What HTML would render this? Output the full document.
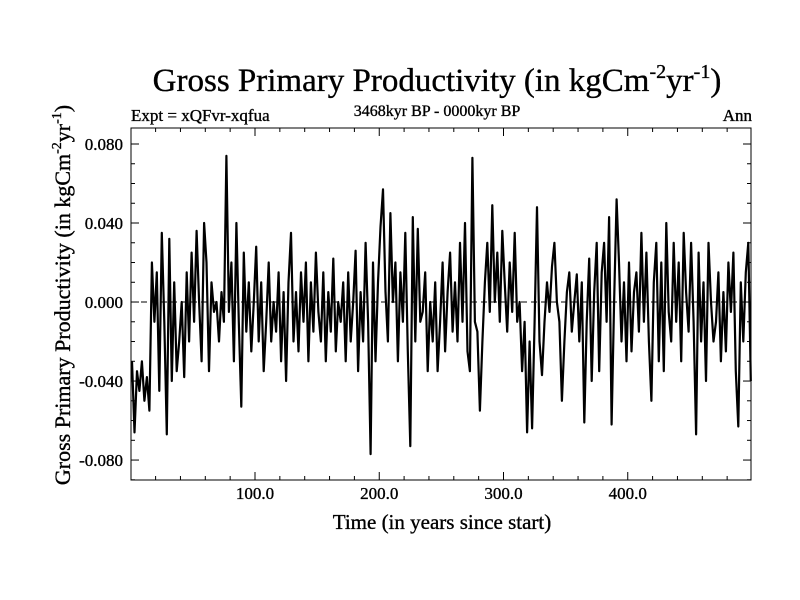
<!DOCTYPE html>
<html><head><meta charset="utf-8"><style>body{margin:0;background:#fff}svg{display:block}text{font-family:"Liberation Serif",serif;fill:#000;stroke:#000;stroke-width:0.35}</style></head>
<body>
<svg id="chart" width="800" height="600" xmlns="http://www.w3.org/2000/svg">
<text x="437" y="91" font-size="33" text-anchor="middle">Gross Primary Productivity (in kgCm<tspan font-size="20" dy="-13">-2</tspan><tspan dy="13">yr</tspan><tspan font-size="20" dy="-13">-1</tspan><tspan dy="13">)</tspan></text>
<text x="131" y="121" font-size="17">Expt = xQFvr-xqfua</text>
<text x="437" y="116" font-size="16" text-anchor="middle">3468kyr BP - 0000kyr BP</text>
<text x="752" y="121" font-size="17" text-anchor="end">Ann</text>
<text x="442" y="529" font-size="21" text-anchor="middle">Time (in years since start)</text>
<text transform="translate(70,295) rotate(-90)" font-size="22" text-anchor="middle">Gross Primary Productivity (in kgCm<tspan font-size="14" dy="-9">-2</tspan><tspan dy="9">yr</tspan><tspan font-size="14" dy="-9">-1</tspan><tspan dy="9">)</tspan></text>
<g id="plot"></g>
</svg>
<script>
const years = [];
const values = [
-30,-66,-35,-45,-30,-50,-38,-55,20,-10,
15,-45,35,-10,-67,32,-40,10,-35,-20,
0,-38,15,-20,25,-10,36,0,-30,40,
20,-35,10,-5,0,-20,5,-10,74,-5,
20,-30,40,-10,-53,25,-15,10,-25,0,
28,-20,10,-35,-10,20,-20,0,-15,15,
-30,5,-40,10,35,-20,5,-25,15,-10,
20,-30,10,-15,25,-5,-20,15,-30,5,
-15,22,-25,0,-10,10,-30,15,-20,0,
26,-35,5,-20,30,-10,-77,20,-30,10,
38,57,5,-20,45,0,20,-30,15,-10,
35,-25,-73,43,-20,37,-10,-5,15,-35,
0,-20,10,-35,-10,20,-25,5,25,-15,
10,-20,30,-10,40,-25,-35,73,-10,-15,
-55,-20,10,30,-5,49,0,25,-10,36,
10,-15,20,-5,35,-10,0,-35,-10,-66,
-20,-64,-10,48,-20,-37,-10,10,-5,18,
30,0,-10,-50,-20,5,15,-15,0,14,
-20,10,-61,-10,22,-40,5,30,-35,15,
30,-10,43,-62,0,52,20,-20,10,-30,
20,-25,5,15,-15,35,-10,25,-20,-50,
10,30,-30,20,-35,40,-5,-20,30,-10,
20,-30,35,5,-15,30,-10,-67,25,-20,
10,-40,30,0,-20,-10,15,-30,5,-25,
20,-5,25,-35,-63,10,-20,15,30,-40];
for (let i = 0; i < values.length; i++) years.push(1 + 2 * i);
const xTicks = [100, 200, 300, 400];
const xTickLabels = ["100.0", "200.0", "300.0", "400.0"];
const yTicks = [-0.08, -0.04, 0, 0.04, 0.08];
const yTickLabels = ["-0.080", "-0.040", "0.000", "0.040", "0.080"];

const L = 131, R = 751, T = 128, B = 480;
const X0 = 0.2, X1 = 499.2, Y0 = -0.0901, Y1 = 0.0881;
const sx = v => L + (v - X0) / (X1 - X0) * (R - L);
const sy = v => B - (v - Y0) / (Y1 - Y0) * (B - T);
const NS = "http://www.w3.org/2000/svg";
const g = document.getElementById("plot");
function mk(tag, attrs) { const e = document.createElementNS(NS, tag); for (const k in attrs) e.setAttribute(k, attrs[k]); g.appendChild(e); return e; }

const zero = mk("line", {x1: L, x2: R, y1: sy(0), y2: sy(0), stroke: "#000", "stroke-width": 1, "stroke-dasharray": "6,4"});



let d = "";
for (let i = 0; i < values.length; i++) d += (i ? "L" : "M") + sx(years[i]).toFixed(1) + "," + sy(values[i] / 1000).toFixed(1);
const line = mk("path", {d: d, fill: "none", stroke: "#000", "stroke-width": 2.2, "stroke-linejoin": "round"});



const frame = mk("rect", {x: L, y: T, width: R - L, height: B - T, fill: "none", stroke: "#000", "stroke-width": 1});



for (let v = 20; v < 500; v += 20) {
  const x = sx(v), len = (v % 100 === 0) ? 8 : 4;
  const t1 = mk("line", {x1: x, x2: x, y1: B, y2: B - len, stroke: "#000"});
  
  
  const t2 = mk("line", {x1: x, x2: x, y1: T, y2: T + len, stroke: "#000"});
  
  
}
for (let k = -9; k <= 8; k++) {
  const v = k / 100, y = sy(v), len = (k % 4 === 0) ? 8 : 4;
  const t1 = mk("line", {x1: L, x2: L + len, y1: y, y2: y, stroke: "#000"});
  
  
  const t2 = mk("line", {x1: R, x2: R - len, y1: y, y2: y, stroke: "#000"});
  
  
}
xTicks.forEach((v, i) => {
  const t = mk("text", {x: sx(v), y: 499, "font-size": 17, "text-anchor": "middle"});
  t.textContent = xTickLabels[i];
  
  
});
yTicks.forEach((v, i) => {
  const t = mk("text", {x: 123, y: sy(v) + 6, "font-size": 17, "text-anchor": "end"});
  t.textContent = yTickLabels[i];
  
  
});
</script>
</body></html>
